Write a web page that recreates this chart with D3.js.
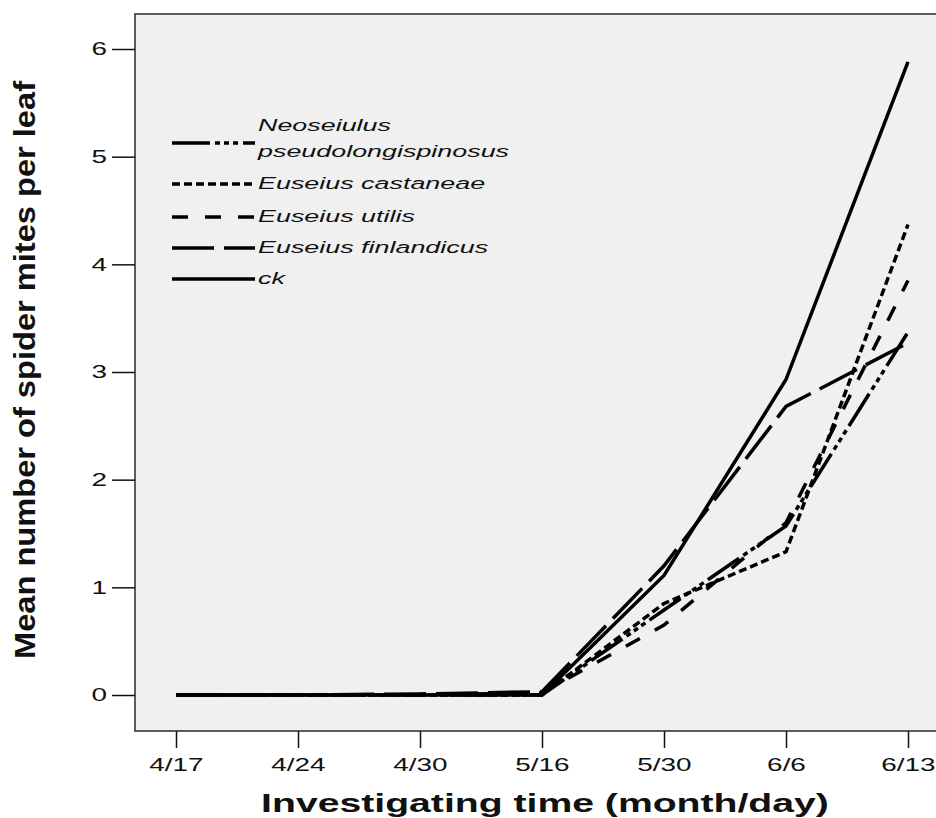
<!DOCTYPE html>
<html>
<head>
<meta charset="utf-8">
<script src="https://cdn.jsdelivr.net/npm/d3@7"></script>
<style>
  body { margin: 0; background: #fff; }
  svg { display: block; font-family: "Liberation Sans", Arial, sans-serif; }
</style>
</head>
<body>
<svg id="chart"></svg>
<script>
// categories (investigating dates)
var dates = ["4/17", "4/24", "4/30", "5/16", "5/30", "6/6", "6/13"];
var yTicks = [0, 1, 2, 3, 4, 5, 6];

// series values, mean number of spider mites per leaf
var neoseiulus = [0, 0, 0, 0, 0.79, 1.57, 3.37];
var castaneae = [0, 0, 0, 0, 0.85, 1.33, 4.37];
var utilis = [0, 0, 0, 0.02, 0.65, 1.6, 3.85];
var finlandicus = [0, 0, 0.01, 0.03, 1.2, 2.68, 3.27];
var ck = [0, 0, 0, 0, 1.11, 2.93, 5.88];

var seriesNames = ["Neoseiulus pseudolongispinosus", "Euseius castaneae", "Euseius utilis", "Euseius finlandicus", "ck"];
var dashes = ["38,5,5,4,5,4,5,5", "8,4", "16,17", "42,10", null];

var series = [neoseiulus, castaneae, utilis, finlandicus, ck].map(function (v, i) {
  return { name: seriesNames[i], values: v, dash: dashes[i] };
});

var width = 936, height = 818;
var frame = { left: 135, top: 14, right: 942, bottom: 731 };
var stretch = 1.55; // the text in the original is widened horizontally

var svg = d3.select("#chart").attr("width", width).attr("height", height);

var xscale = d3.scalePoint().domain(dates).range([176, 908]);
var yscale = d3.scaleLinear().domain([0, 6]).range([695, 49]);

svg.append("rect")
  .attr("x", frame.left)
  .attr("y", frame.top)
  .attr("width", frame.right - frame.left)
  .attr("height", frame.bottom - frame.top)
  .attr("fill", "#f0f0f0")
  .attr("stroke", "#2a2a2a")
  .attr("stroke-width", 1.5);

// axes
var yaxis = d3.axisLeft(yscale).tickValues(yTicks).tickSize(23).tickPadding(5).tickFormat(d3.format("d"));
var gy = svg.append("g")
  .attr("transform", "translate(" + frame.left + ",0)")
  .call(yaxis);
gy.select(".domain").remove();
gy.selectAll("line").attr("stroke", "#111").attr("stroke-width", 1.5);
gy.selectAll("text")
  .style("font-size", "18px")
  .attr("fill", "#111")
  .attr("x", -28 / stretch)
  .attr("transform", "scale(" + stretch + ",1)");

var xaxis = d3.axisBottom(xscale).tickSize(17).tickPadding(10);
var gx = svg.append("g")
  .attr("transform", "translate(0," + frame.bottom + ")")
  .call(xaxis);
gx.select(".domain").remove();
gx.selectAll("line").attr("stroke", "#111").attr("stroke-width", 1.5);
gx.selectAll("text")
  .style("font-size", "18px")
  .attr("fill", "#111")
  .attr("transform", "scale(" + stretch + ",1)");

// lines
var line = d3.line()
  .x(function (d, i) { return xscale(dates[i]); })
  .y(function (d) { return yscale(d); });

svg.append("g")
  .selectAll("path")
  .data(series)
  .enter()
  .append("path")
  .attr("fill", "none")
  .attr("stroke", "#000")
  .attr("stroke-width", 3.5)
  .attr("stroke-dasharray", function (d) { return d.dash; })
  .attr("d", function (d) { return line(d.values); });

// legend
var legendY = [143, 184, 217, 248, 279];
var leg = svg.append("g");
series.forEach(function (s, i) {
  leg.append("line")
    .attr("x1", 172).attr("x2", 255)
    .attr("y1", legendY[i]).attr("y2", legendY[i])
    .attr("stroke", "#000")
    .attr("stroke-width", 3.5)
    .attr("stroke-dasharray", s.dash);
  var g = leg.append("g")
    .attr("transform", "translate(258," + legendY[i] + ")scale(1.63,1)");
  var t = g.append("text")
    .style("font-size", "16.5px")
    .style("font-style", "italic")
    .attr("fill", "#111");
  if (i === 0) {
    var words = s.name.split(" ");
    t.append("tspan").attr("x", 0).attr("y", -12).text(words[0]);
    t.append("tspan").attr("x", 0).attr("y", 14).text(words[1]);
  } else {
    t.attr("y", 5).text(s.name);
  }
});

// axis titles
svg.append("text")
  .attr("transform", "translate(35,370)rotate(-90)")
  .attr("text-anchor", "middle")
  .attr("textLength", 578)
  .attr("lengthAdjust", "spacingAndGlyphs")
  .style("font-family", "'Liberation Sans Narrow', 'Liberation Sans', sans-serif")
  .style("font-size", "29px")
  .style("font-weight", "bold")
  .attr("fill", "#111")
  .text("Mean number of spider mites per leaf");

var xt = svg.append("g").attr("transform", "translate(545,812)");
var xtitle = xt.append("text")
  .attr("text-anchor", "middle")
  .style("font-size", "25px")
  .style("font-weight", "bold")
  .attr("fill", "#111")
  .text("Investigating time (month/day)");
var xlen = xtitle.node().getComputedTextLength();
xt.attr("transform", "translate(545,812)scale(" + (568 / xlen) + ",1)");
</script>
</body>
</html>
